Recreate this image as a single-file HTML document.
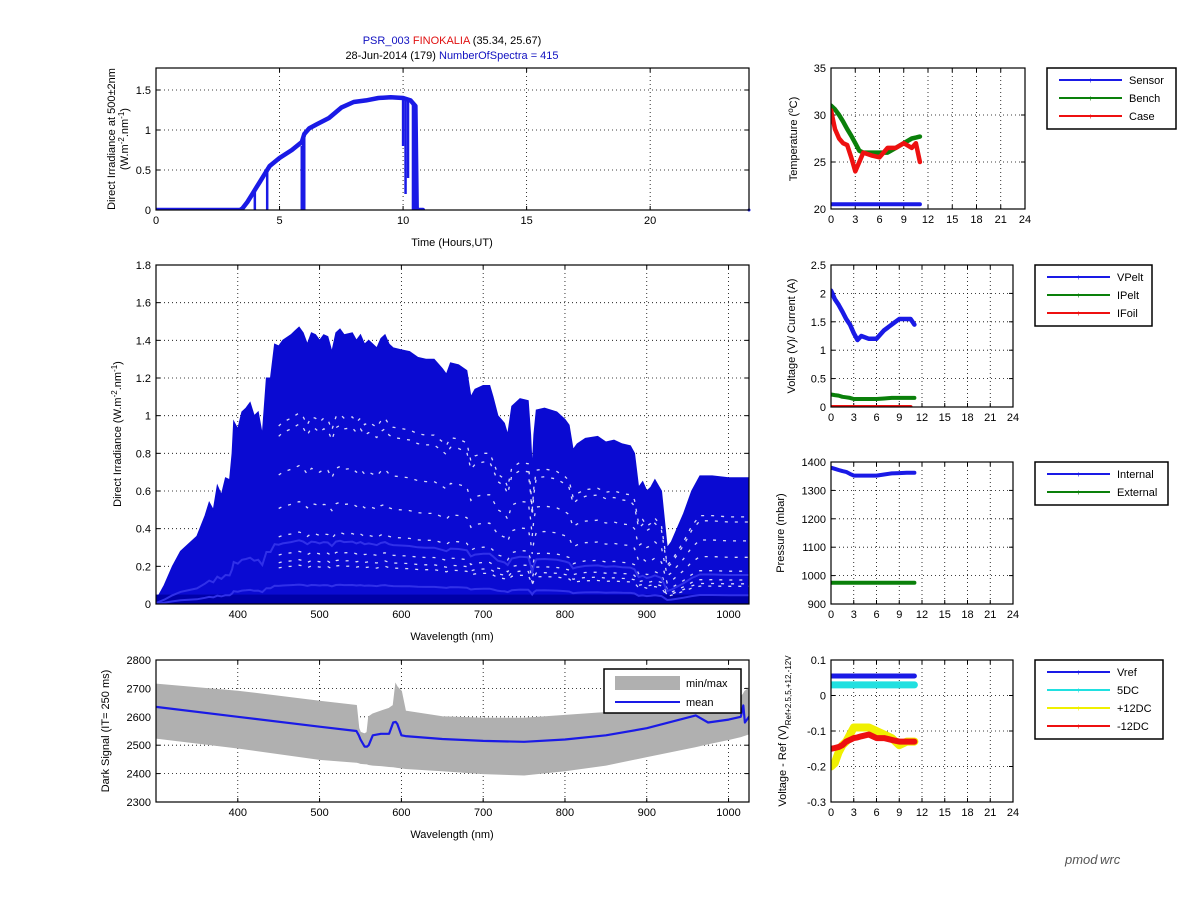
<!DOCTYPE html>
<html><head><meta charset="utf-8"><title>PSR_003 FINOKALIA</title>
<style>
html,body{margin:0;padding:0;background:#fff;}
svg{display:block;font-family:"Liberation Sans",Arial,sans-serif;}
</style></head>
<body>
<svg id="fig" width="1201" height="901" viewBox="0 0 1201 901" xmlns="http://www.w3.org/2000/svg">
<rect x="0" y="0" width="1201" height="901" fill="#fff"/>
<text x="452" y="44" font-size="11" text-anchor="middle"><tspan fill="#1010c0">PSR_003 </tspan><tspan fill="#e01010">FINOKALIA</tspan><tspan fill="#000"> (35.34, 25.67)</tspan></text>
<text x="452" y="59" font-size="11" text-anchor="middle"><tspan fill="#000">28-Jun-2014 (179)  </tspan><tspan fill="#1010c0">NumberOfSpectra = 415</tspan></text>
<text x="1065" y="864" font-size="13" font-style="italic" fill="#555">pmod</text>
<text x="1100" y="864" font-size="13" font-style="italic" fill="#555">wrc</text>
</svg>
<script>
// ---------- DATA ----------
const irrHours = [0,1,2,3,3.4,3.5,3.7,3.9,4.0,4.2,4.4,4.6,4.8,5.0,5.5,5.9,6.0,6.2,6.5,7.0,7.5,8.0,8.5,9.0,9.5,10.0,10.3,10.5,10.55,10.8];
const irrValues = [0,0,0,0,0,0.02,0.1,0.2,0.25,0.35,0.45,0.55,0.6,0.65,0.75,0.85,0.95,1.02,1.07,1.15,1.28,1.35,1.37,1.4,1.41,1.4,1.37,1.3,0.0,0.0];
const irrDipHours = [4.0,4.5,5.9,5.95,6.0,10.0,10.1,10.2,10.4,10.45];
const irrDipValues = [0,0,0,0.2,0,0.8,0.2,0.4,0,0];
const specWl = [300,310,320,330,340,350,360,365,370,375,380,385,390,393,395,400,405,410,415,420,425,430,435,440,445,450,455,465,470,475,480,485,490,495,500,505,510,515,520,525,530,540,545,550,555,560,565,570,575,580,585,590,600,610,620,630,640,650,655,660,670,680,685,690,700,708,712,718,722,726,730,735,745,755,758,760,762,765,775,790,800,805,810,815,825,840,850,860,870,880,885,890,895,900,905,910,918,925,930,935,945,955,965,980,1000,1025];
const specMax = [0.02,0.1,0.2,0.28,0.32,0.36,0.47,0.54,0.5,0.63,0.58,0.67,0.66,0.8,0.97,0.93,1.02,1.04,1.07,1.0,1.02,0.9,1.2,1.2,1.38,1.37,1.4,1.43,1.45,1.47,1.44,1.38,1.44,1.43,1.4,1.43,1.42,1.34,1.44,1.46,1.43,1.44,1.4,1.43,1.38,1.4,1.38,1.36,1.41,1.43,1.38,1.36,1.35,1.34,1.31,1.3,1.3,1.25,1.22,1.28,1.27,1.24,1.1,1.14,1.16,1.16,1.1,1.0,0.98,0.96,0.9,1.05,1.09,1.08,0.9,0.72,0.9,1.03,1.04,1.02,0.98,0.95,0.82,0.85,0.88,0.89,0.86,0.87,0.85,0.84,0.8,0.62,0.65,0.6,0.62,0.66,0.6,0.3,0.33,0.38,0.48,0.6,0.68,0.68,0.67,0.67];
const whiteScales = [0.14,0.16,0.19,0.26,0.37,0.5,0.65,0.69];
const lightScales = [0.07,0.23];
const darkWl = [300,400,500,545,548,550,555,558,560,565,575,585,590,593,595,600,605,650,700,750,800,850,900,960,975,1000,1015,1018,1020,1025];
const darkMax = [2715,2690,2655,2640,2560,2545,2540,2545,2600,2610,2620,2630,2640,2715,2705,2690,2620,2600,2595,2595,2605,2615,2630,2650,2655,2660,2670,2680,2690,2700];
const darkMin = [2525,2490,2450,2440,2438,2436,2435,2434,2432,2430,2428,2425,2424,2423,2422,2420,2418,2410,2400,2395,2410,2430,2460,2495,2505,2520,2530,2533,2535,2540];
const darkMean = [2635,2600,2565,2550,2535,2520,2495,2495,2500,2535,2540,2540,2580,2582,2575,2535,2532,2522,2515,2512,2520,2535,2560,2605,2580,2590,2600,2640,2580,2600];
const tHours = [0,0.5,1,1.5,2,2.5,3,3.5,4,5,6,7,8,9,10,10.5,11];
const tempSensor = [20.5,20.5,20.5,20.5,20.5,20.5,20.5,20.5,20.5,20.5,20.5,20.5,20.5,20.5,20.5,20.5,20.5];
const tempBench = [31,30.6,30,29.3,28.5,27.8,27,26.2,26,26,26,26,26.5,27,27.5,27.6,27.7];
const tempCase = [30.5,28.5,27.5,27,26.8,25.5,24,25,26,25.7,25.5,26.5,26.5,27,26.5,27,25];
const vpelt = [2.05,1.9,1.8,1.68,1.55,1.45,1.3,1.18,1.25,1.2,1.2,1.35,1.45,1.55,1.55,1.55,1.45];
const ipelt = [0.22,0.21,0.2,0.18,0.17,0.16,0.14,0.14,0.14,0.14,0.14,0.15,0.16,0.16,0.16,0.16,0.16];
const ifoil = [0,0,0,0,0,0,0,0,0,0,0,0,0,0,0,0,0];
const presInternal = [1380,1376,1372,1368,1365,1358,1352,1352,1352,1352,1352,1356,1360,1361,1362,1362,1362];
const presExternal = [975,975,975,975,975,975,975,975,975,975,975,975,975,975,975,975,975];
const vref = [0.055,0.055,0.055,0.055,0.055,0.055,0.055,0.055,0.055,0.055,0.055,0.055,0.055,0.055,0.055,0.055,0.055];
const v5dc = [0.03,0.03,0.03,0.03,0.03,0.03,0.03,0.03,0.03,0.03,0.03,0.03,0.03,0.03,0.03,0.03,0.03];
const v12p = [-0.2,-0.19,-0.16,-0.14,-0.13,-0.11,-0.09,-0.09,-0.09,-0.09,-0.1,-0.11,-0.12,-0.14,-0.13,-0.13,-0.13];
const v12n = [-0.15,-0.148,-0.145,-0.14,-0.13,-0.125,-0.12,-0.118,-0.115,-0.11,-0.12,-0.12,-0.125,-0.13,-0.13,-0.13,-0.13];
const hourTicks = [0,3,6,9,12,15,18,21,24];

// ---------- HELPERS ----------
const NS = 'http://www.w3.org/2000/svg';
const svg = document.getElementById('fig');
function mk(tag, attrs, parent){
  const e = document.createElementNS(NS, tag);
  for (const k in attrs) e.setAttribute(k, attrs[k]);
  (parent||svg).appendChild(e);
  return e;
}
function panel(name, x0,y0,x1,y1, xmin,xmax,ymin,ymax, xticks,yticks, xfmt,yfmt){
  const g = mk('g',{});
  
  
  const sx = v => x0 + (v-xmin)/(xmax-xmin)*(x1-x0);
  const sy = v => y1 - (v-ymin)/(ymax-ymin)*(y1-y0);
  const grid = mk('g',{},g);
  
  
  xticks.forEach(t=>{
    const x = sx(t);
    if (x>x0+1 && x<x1-1) mk('line',{x1:x,y1:y0,x2:x,y2:y1,stroke:'#000','stroke-width':0.8,'stroke-dasharray':'1 3'},grid);
    mk('line',{x1:x,y1:y1,x2:x,y2:y1-4,stroke:'#000'},grid);
    mk('line',{x1:x,y1:y0,x2:x,y2:y0+4,stroke:'#000'},grid);
    const lb = mk('text',{x:x,y:y1+14,'font-size':11,'text-anchor':'middle',fill:'#000'},g);
    lb.textContent = xfmt(t);
    
    
  });
  yticks.forEach(t=>{
    const y = sy(t);
    if (y>y0+1 && y<y1-1) mk('line',{x1:x0,y1:y,x2:x1,y2:y,stroke:'#000','stroke-width':0.8,'stroke-dasharray':'1 3'},grid);
    mk('line',{x1:x0,y1:y,x2:x0+4,y2:y,stroke:'#000'},grid);
    mk('line',{x1:x1,y1:y,x2:x1-4,y2:y,stroke:'#000'},grid);
    const lb = mk('text',{x:x0-5,y:y+4,'font-size':11,'text-anchor':'end',fill:'#000'},g);
    lb.textContent = yfmt(t);
    
    
  });
  const plot = mk('g',{},g);
  
  
  const clipId = name+'-clip';
  const cp = mk('clipPath',{id:clipId},g);
  mk('rect',{x:x0,y:y0,width:x1-x0,height:y1-y0},cp);
  plot.setAttribute('clip-path','url(#'+clipId+')');
  return {g, plot, sx, sy, x0,y0,x1,y1, box(){
    const b = mk('rect',{x:x0,y:y0,width:x1-x0,height:y1-y0,fill:'none',stroke:'#000','stroke-width':1.2},g);
    
    
  }};
}
function line(p, xs, ys, color, w, nm){
  const d = xs.map((x,i)=>(i?'L':'M')+p.sx(x).toFixed(1)+','+p.sy(ys[i]).toFixed(1)).join('');
  const e = mk('path',{d:d,fill:'none',stroke:color,'stroke-width':w,'stroke-linejoin':'round','stroke-linecap':'round'},p.plot);
  
  
  return e;
}
function ylabel(cx, cy, parts, nm){
  const t = mk('text',{x:0,y:0,'font-size':11,'text-anchor':'middle',transform:'translate('+cx+','+cy+') rotate(-90)',fill:'#000'});
  
  
  parts.forEach(p=>{
    const s = mk('tspan',{},t);
    if (p[1]==='sup'){ s.setAttribute('baseline-shift','super'); s.setAttribute('font-size','8'); }
    if (p[1]==='sub'){ s.setAttribute('baseline-shift','sub'); s.setAttribute('font-size','8'); }
    s.textContent = p[0];
  });
  return t;
}
function xlabel(cx, y, txt, nm){
  const t = mk('text',{x:cx,y:y,'font-size':11,'text-anchor':'middle',fill:'#000'});
  t.textContent = txt;
  
  
}
function legend(nm, x0,y0,x1,y1, entries){
  const g = mk('g',{});
  
  
  mk('rect',{x:x0,y:y0,width:x1-x0,height:y1-y0,fill:'#fff',stroke:'#000','stroke-width':1.5},g);
  entries.forEach((e,i)=>{
    const y = y0+12+i*18;
    const it = mk('g',{},g);
    
    
    mk('line',{x1:x0+12,y1:y,x2:x0+75,y2:y,stroke:e[1],'stroke-width':2},it);
    mk('text',{x:x0+43.5,y:y+3,'font-size':8,'text-anchor':'middle',fill:e[1]},it).textContent='+';
    const t = mk('text',{x:x0+82,y:y+4,'font-size':11,fill:'#000'},it);
    t.textContent = e[0];
  });
}
const fmt = v => String(v);

// ---------- TOP-LEFT ----------
const pA = panel('irradiance-500nm-panel',156,68,749,210,0,24,0,1.775,[0,5,10,15,20],[0,0.5,1,1.5],fmt,fmt);
irrDipHours.forEach((h,i)=>{
  const j = irrHours.findIndex(x=>x>=h);
  const top = irrValues[Math.max(0,j-1)] + (irrValues[j]-irrValues[Math.max(0,j-1)])*0.5;
  const e = mk('line',{x1:pA.sx(h),y1:pA.sy(top),x2:pA.sx(h),y2:pA.sy(irrDipValues[i]),stroke:'#1a1ae6','stroke-width':2.5},pA.plot);
  
  
});
line(pA, irrHours, irrValues, '#1a1ae6', 4.5, 'irradiance-series');
{const e=mk('circle',{cx:pA.sx(24),cy:pA.sy(0),r:1.5,fill:'#1a1ae6'},pA.g);

}
pA.box();
ylabel(115,139,[['Direct Irradiance at 500±2nm']],'irradiance-y-title-1');
ylabel(128,139,[['(W.m'],['-2','sup'],['.nm'],['-1','sup'],[')']],'irradiance-y-title-2');
xlabel(452,246,'Time (Hours,UT)','irradiance-x-title');

// ---------- MIDDLE: SPECTRA ----------
const pB = panel('spectra-panel',156,265,749,604,300,1025,0,1.8,[400,500,600,700,800,900,1000],[0,0.2,0.4,0.6,0.8,1,1.2,1.4,1.6,1.8],fmt,fmt);
{
  let d = 'M'+pB.sx(specWl[0])+','+pB.sy(0);
  specWl.forEach((w,i)=>{ d += 'L'+pB.sx(w).toFixed(1)+','+pB.sy(specMax[i]).toFixed(1); });
  d += 'L'+pB.sx(specWl[specWl.length-1])+','+pB.sy(0)+'Z';
  const e = mk('path',{d:d,fill:'#0a0ad2',stroke:'#0a0ad2','stroke-width':1},pB.plot);
  
  
  const lo = mk('rect',{x:pB.x0,y:pB.sy(0.05),width:pB.x1-pB.x0,height:pB.sy(0)-pB.sy(0.05),fill:'#0000a8'},pB.plot);
  
  
  whiteScales.forEach(s=>{
    const idx = specWl.map((w,i)=>i).filter(i=>specWl[i]>=450);
    const dd = idx.map((i,k)=>(k?'L':'M')+pB.sx(specWl[i]).toFixed(1)+','+pB.sy(specMax[i]*s).toFixed(1)).join('');
    const w = mk('path',{d:dd,fill:'none',stroke:'#fff','stroke-width':1.3,'stroke-dasharray':'3 7','stroke-opacity':0.85},pB.plot);
    
    
  });
  lightScales.forEach(s=>{
    const dd = specWl.map((w,i)=>(i?'L':'M')+pB.sx(w).toFixed(1)+','+pB.sy(specMax[i]*s).toFixed(1)).join('');
    const l = mk('path',{d:dd,fill:'none',stroke:'#3030e8','stroke-width':2},pB.plot);
    
    
  });
}
pB.box();
ylabel(121,434,[['Direct Irradiance (W.m'],['-2','sup'],['.nm'],['-1','sup'],[')']],'spectra-y-title');
xlabel(452,640,'Wavelength (nm)','spectra-x-title');

// ---------- BOTTOM: DARK ----------
const pC = panel('dark-signal-panel',156,660,749,802,300,1025,2300,2800,[400,500,600,700,800,900,1000],[2300,2400,2500,2600,2700,2800],fmt,fmt);
{
  let d = darkWl.map((w,i)=>(i?'L':'M')+pC.sx(w).toFixed(1)+','+pC.sy(darkMax[i]).toFixed(1)).join('');
  for (let i=darkWl.length-1;i>=0;i--) d += 'L'+pC.sx(darkWl[i]).toFixed(1)+','+pC.sy(darkMin[i]).toFixed(1);
  const e = mk('path',{d:d+'Z',fill:'#b0b0b0',stroke:'#b0b0b0','stroke-width':1},pC.plot);
  
  
}
line(pC, darkWl, darkMean, '#1a1ae6', 2.2, 'dark-mean-line');
pC.box();
{
  const g = mk('g',{});
  
  
  mk('rect',{x:604,y:669,width:137,height:44,fill:'#fff',stroke:'#000','stroke-width':1.5},g);
  mk('rect',{x:615,y:676,width:65,height:14,fill:'#b0b0b0'},g);
  mk('text',{x:686,y:687,'font-size':11},g).textContent='min/max';
  mk('line',{x1:615,y1:702,x2:680,y2:702,stroke:'#1a1ae6','stroke-width':2},g);
  mk('text',{x:686,y:706,'font-size':11},g).textContent='mean';
}
ylabel(109,731,[['Dark Signal (IT= 250 ms)']],'dark-y-title');
xlabel(452,838,'Wavelength (nm)','dark-x-title');

// ---------- RIGHT PANELS ----------
const pT = panel('temperature-panel',831,68,1025,209,0,24,20,35,hourTicks,[20,25,30,35],fmt,fmt);
line(pT,tHours,tempSensor,'#1a1ae6',4,'sensor-temp-line');
line(pT,tHours,tempBench,'#0a800a',4.5,'bench-temp-line');
line(pT,tHours,tempCase,'#ee1010',4.5,'case-temp-line');
pT.box();
ylabel(797,139,[['Temperature ('],['o','sup'],['C)']],'temperature-y-title');
legend('temperature-legend',1047,68,1176,129,[['Sensor','#1a1ae6'],['Bench','#0a800a'],['Case','#ee1010']]);

const pV = panel('peltier-panel',831,265,1013,407,0,24,0,2.5,hourTicks,[0,0.5,1,1.5,2,2.5],fmt,fmt);
line(pV,tHours,vpelt,'#1a1ae6',4.5,'vpelt-line');
line(pV,tHours,ipelt,'#0a800a',4,'ipelt-line');
line(pV,tHours.slice(0,16),ifoil.slice(0,16),'#ee1010',4,'ifoil-line');
pV.box();
ylabel(795,336,[['Voltage (V)/ Current (A)']],'peltier-y-title');
legend('peltier-legend',1035,265,1152,326,[['VPelt','#1a1ae6'],['IPelt','#0a800a'],['IFoil','#ee1010']]);

const pP = panel('pressure-panel',831,462,1013,604,0,24,900,1400,hourTicks,[900,1000,1100,1200,1300,1400],fmt,fmt);
line(pP,tHours,presInternal,'#1a1ae6',4,'internal-pressure-line');
line(pP,tHours,presExternal,'#0a800a',4,'external-pressure-line');
pP.box();
ylabel(784,533,[['Pressure (mbar)']],'pressure-y-title');
legend('pressure-legend',1035,462,1168,505,[['Internal','#1a1ae6'],['External','#0a800a']]);

const pR = panel('voltage-panel',831,660,1013,802,0,24,-0.3,0.1,hourTicks,[-0.3,-0.2,-0.1,0,0.1],fmt,fmt);
line(pR,tHours,vref,'#1a1ae6',5,'vref-line');
line(pR,tHours,v5dc,'#20e0e0',7,'5dc-line');
line(pR,tHours,v12p,'#f0f000',8,'plus12dc-line');
line(pR,tHours,v12n,'#ee1010',6,'minus12dc-line');
pR.box();
ylabel(786,731,[['Voltage - Ref (V)'],['Ref+2.5,5,+12,-12V','sub']],'voltage-y-title');
legend('voltage-legend',1035,660,1163,739,[['Vref','#1a1ae6'],['5DC','#20e0e0'],['+12DC','#f0f000'],['-12DC','#ee1010']]);
</script>
</body></html>
